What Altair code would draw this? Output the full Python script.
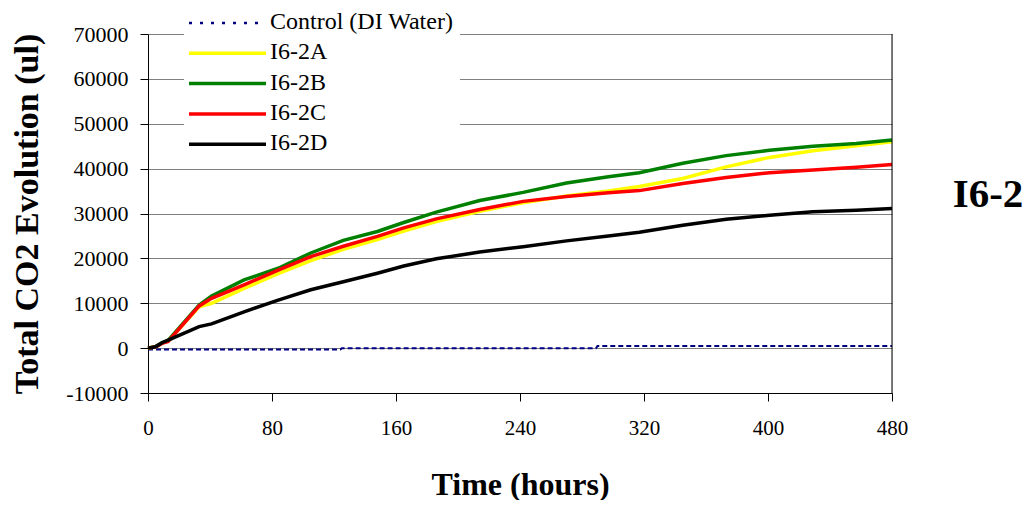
import altair as alt
import pandas as pd

# ---------------- data ----------------
series_names = ["Control (DI Water)", "I6-2A", "I6-2B", "I6-2C", "I6-2D"]
series_colors = ["#000080", "#FFFF00", "#008000", "#FF0000", "#000000"]

control_hours = [0, 124, 125, 289, 290, 480]
control_ul = [-300, -300, -50, -50, 500, 500]

hours = [0, 5, 9, 13, 33, 41, 62, 84, 105, 126, 148, 165, 186, 214, 242, 270,
         297, 317, 345, 373, 401, 429, 457, 480]
i62a = [0, 300, 1100, 1600, 9200, 10000, 13300, 16600, 19500, 22000, 24200, 26100,
        28200, 30500, 32400, 33900, 35000, 36000, 37800, 40400, 42500, 44000, 45100, 46000]
i62b = [0, 400, 1200, 1700, 9600, 11600, 15200, 17800, 21200, 24000, 26000, 28000,
        30300, 32900, 34700, 36800, 38200, 39100, 41200, 42900, 44100, 45000, 45600, 46400]
i62c = [0, 300, 1050, 1500, 9400, 11100, 14100, 17400, 20400, 22700, 24900, 26800,
        28800, 30900, 32700, 33800, 34600, 35100, 36700, 38000, 39100, 39700, 40300, 40900]
i62d = [0, 300, 1200, 1800, 4800, 5400, 8100, 10700, 13000, 14800, 16700, 18300,
        19900, 21400, 22600, 23900, 25000, 25800, 27400, 28700, 29600, 30400, 30700, 31100]

x_ticks = [0, 80, 160, 240, 320, 400, 480]
y_ticks = [-10000, 0, 10000, 20000, 30000, 40000, 50000, 60000, 70000]
panel_label = "I6-2"

# ---------------- table ----------------
rows = []
for t, v in zip(control_hours, control_ul):
    rows.append({"series": series_names[0], "hours": t, "ul": v})
for name, vals in zip(series_names[1:], [i62a, i62b, i62c, i62d]):
    for t, v in zip(hours, vals):
        rows.append({"series": name, "hours": t, "ul": v})
df = pd.DataFrame(rows)

FONT = "Liberation Serif"

x_scale = alt.Scale(domain=[0, 480], nice=False, zero=False)
y_scale = alt.Scale(domain=[-10000, 70000], nice=False, zero=False)

x_enc = alt.X(
    "hours:Q", scale=x_scale,
    axis=alt.Axis(values=x_ticks, title="Time (hours)", grid=False,
                  labelFlush=False, labelFont=FONT, labelFontSize=21, labelColor="black",
                  labelPadding=16, tickSize=8, tickColor="black", domainColor="black",
                  titleFont=FONT, titleFontSize=32, titleFontWeight="bold", titleColor="black",
                  titleX=372, titleY=101, titleBaseline="alphabetic", titleAlign="center"),
)
y_enc = alt.Y(
    "ul:Q", scale=y_scale,
    axis=alt.Axis(values=y_ticks, title="Total CO2 Evolution (ul)", grid=True,
                  gridColor="#808080", gridWidth=1,
                  labelExpr="'' + datum.value", labelFont=FONT, labelFontSize=22,
                  labelColor="black", labelPadding=12, tickSize=8, tickColor="black",
                  domainColor="black",
                  titleFont=FONT, titleFontSize=34, titleFontWeight="bold", titleColor="black",
                  titleAngle=-90, titleX=-121, titleY=179.5, titleBaseline="middle",
                  titleAlign="center"),
)

layers = []
for name, color in zip(series_names, series_colors):
    kw = dict(color=color, strokeWidth=3.5)
    if name.startswith("Control"):
        kw = dict(color=color, strokeWidth=2, strokeDash=[5, 3])
    layers.append(
        alt.Chart(df).transform_filter(alt.datum.series == name)
        .mark_line(**kw).encode(x=x_enc, y=y_enc)
    )

# right frame line
frame = alt.Chart(alt.Data(values=[{"hours": 480, "ul": -10000, "ul2": 70000}])).mark_rule(
    color="black", strokeWidth=1
).encode(x=x_enc, y=y_enc, y2="ul2:Q")
layers.append(frame)

# legend (drawn as marks)
one = alt.Data(values=[{"k": 1}])
legend_bg = alt.Chart(one).mark_rect(fill="white").encode(
    x=alt.value(36), x2=alt.value(312), y=alt.value(-26), y2=alt.value(126)
)
layers.append(legend_bg)
for i, (name, color) in enumerate(zip(series_names, series_colors)):
    ypos = -11 + 30.3 * i
    kw = dict(color=color, strokeWidth=3.5)
    if name.startswith("Control"):
        kw = dict(color=color, strokeWidth=2.5, strokeDash=[3, 8])
    layers.append(
        alt.Chart(one).mark_rule(**kw).encode(
            x=alt.value(41), x2=alt.value(118), y=alt.value(ypos)
        )
    )
    layers.append(
        alt.Chart(alt.Data(values=[{"label": name}])).mark_text(
            align="left", baseline="middle", font=FONT, fontSize=24, color="black"
        ).encode(x=alt.value(122), y=alt.value(ypos - 1), text="label:N")
    )

label_layer = alt.Chart(alt.Data(values=[{"label": panel_label}])).mark_text(
    align="center", baseline="alphabetic", font=FONT, fontSize=41, fontWeight="bold",
    color="black"
).encode(x=alt.value(840), y=alt.value(173), text="label:N")
layers.append(label_layer)

chart = alt.layer(*layers).properties(
    width=744, height=359,
    autosize=alt.AutoSizeParams(type="none"),
    padding={"left": 140, "top": 26, "right": 134, "bottom": 107},
).configure_view(stroke=None).configure(background="white")

chart.save("out.html", embed_options={"renderer": "svg", "actions": False})
